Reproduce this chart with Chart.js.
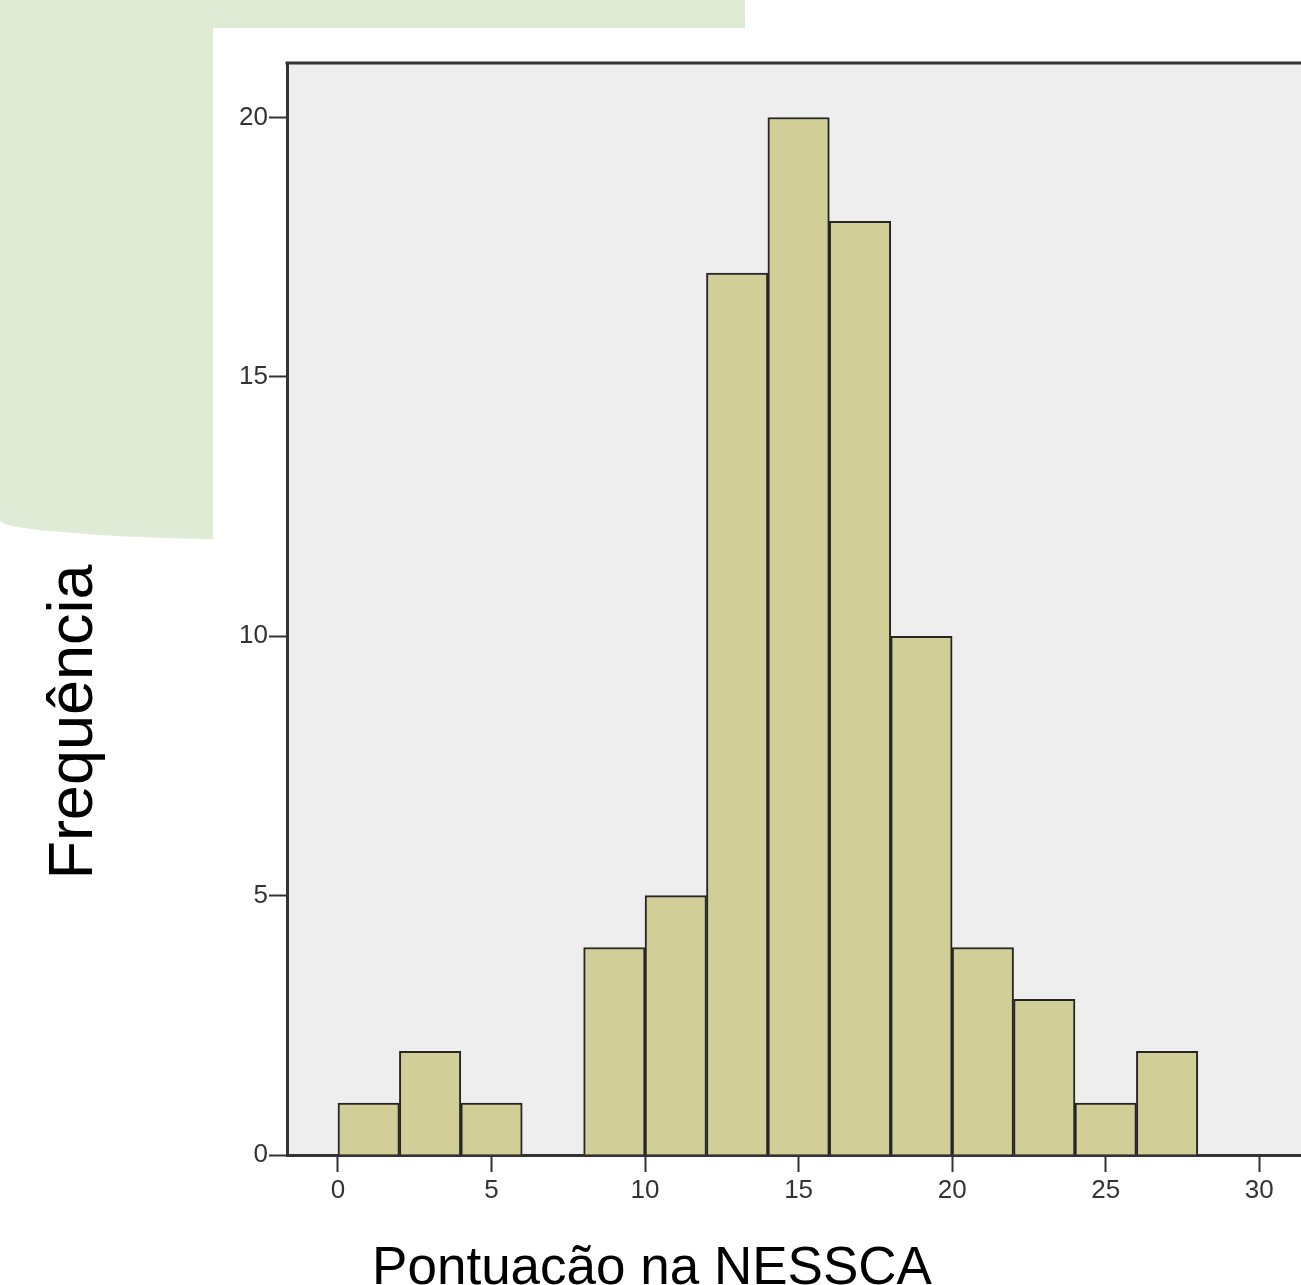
<!DOCTYPE html>
<html lang="pt">
<head>
  <meta charset="UTF-8">
  <title>Pontuacão na NESSCA</title>
  <script src="https://cdn.jsdelivr.net/npm/chart.js"></script>
  <style>
    html, body { margin: 0; padding: 0; background: #fff; overflow: hidden; width: 1301px; height: 1285px; }
    #blob { position: absolute; left: 0; top: 0; width: 745px; height: 540px; background: #e0ebd5;
            border-bottom-left-radius: 300px 20px; border-bottom-right-radius: 40px; }
    #card { position: absolute; left: 213px; top: 28px; right: 0; bottom: 0; background: #fff; }
    #histo { position: absolute; left: 0; top: 0; }
  </style>
</head>
<body>
  <div id="blob"></div>
  <div id="card"></div>
  <canvas id="histo" width="1400" height="1285"></canvas>

  <script>
    // histogram bins (width 2) and their frequencies
    const binStarts = [0, 2, 4, 6, 8, 10, 12, 14, 16, 18, 20, 22, 24, 26];
    const counts = [1, 2, 1, 0, 4, 5, 17, 20, 18, 10, 4, 3, 1, 2];
    const binWidth = 2;
    const xTicks = [0, 5, 10, 15, 20, 25, 30];
    const yTicks = [0, 5, 10, 15, 20];
    const xTitle = "Pontuacão na NESSCA";
    const yTitle = "Frequência";

    const tickFont = { family: "'Liberation Sans Narrow', 'Liberation Sans', Arial, sans-serif", size: 26 };
    const titleFamily = "'Liberation Sans', Arial, sans-serif";

    const plotFrame = {
      id: "plotFrame",
      beforeDraw(chart) {
        const { ctx, chartArea: a } = chart;
        ctx.save();
        ctx.fillStyle = "#eeeeee";
        ctx.fillRect(a.left, a.top, a.right - a.left, a.bottom - a.top);
        ctx.restore();
      },
      afterDraw(chart) {
        const { ctx, chartArea: a } = chart;
        ctx.save();
        ctx.strokeStyle = "#333";
        ctx.lineWidth = 3;
        ctx.beginPath();
        ctx.moveTo(a.left - 1.5, a.top);
        ctx.lineTo(a.right, a.top);
        ctx.lineTo(a.right, a.bottom);
        ctx.stroke();

        // axis titles
        ctx.fillStyle = "#000";
        ctx.textAlign = "center";
        ctx.textBaseline = "alphabetic";
        ctx.font = "53px " + titleFamily;
        ctx.fillText(xTitle, 652, 1284);

        ctx.translate(92, 722);
        ctx.rotate(-Math.PI / 2);
        ctx.font = "63px " + titleFamily;
        ctx.fillText(yTitle, 0, 0);
        ctx.restore();
      }
    };

    new Chart(document.getElementById("histo"), {
      type: "bar",
      data: {
        datasets: [{
          data: binStarts.map((b, i) => ({ x: b + binWidth / 2, y: counts[i] })),
          backgroundColor: "#d2ce97",
          borderColor: "#262626",
          borderWidth: 2,
          barPercentage: 1,
          categoryPercentage: 1
        }]
      },
      options: {
        responsive: false,
        animation: false,
        devicePixelRatio: 1,
        layout: { padding: { top: 63, right: 64, bottom: 0, left: 0 } },
        plugins: {
          legend: { display: false },
          tooltip: { enabled: false }
        },
        scales: {
          x: {
            type: "linear",
            min: -1.66,
            max: 32.5,
            offset: false,
            afterBuildTicks: s => { s.ticks = xTicks.map(v => ({ value: v })); },
            afterFit: s => { s.height = 130; },
            ticks: { font: tickFont, color: "#333", padding: 3, autoSkip: false, maxRotation: 0 },
            grid: { offset: false, drawOnChartArea: false, drawTicks: true, tickLength: 17, tickWidth: 2, color: "#333" },
            border: { display: true, color: "#333", width: 3 }
          },
          y: {
            min: 0,
            max: 21.05,
            afterBuildTicks: s => { s.ticks = yTicks.map(v => ({ value: v })); },
            afterFit: s => { s.width = 287; },
            ticks: { font: tickFont, color: "#333", padding: 1 },
            grid: { drawOnChartArea: false, drawTicks: true, tickLength: 18, tickWidth: 2, color: "#333" },
            border: { display: true, color: "#333", width: 3 }
          }
        }
      },
      plugins: [plotFrame]
    });
  </script>
</body>
</html>
